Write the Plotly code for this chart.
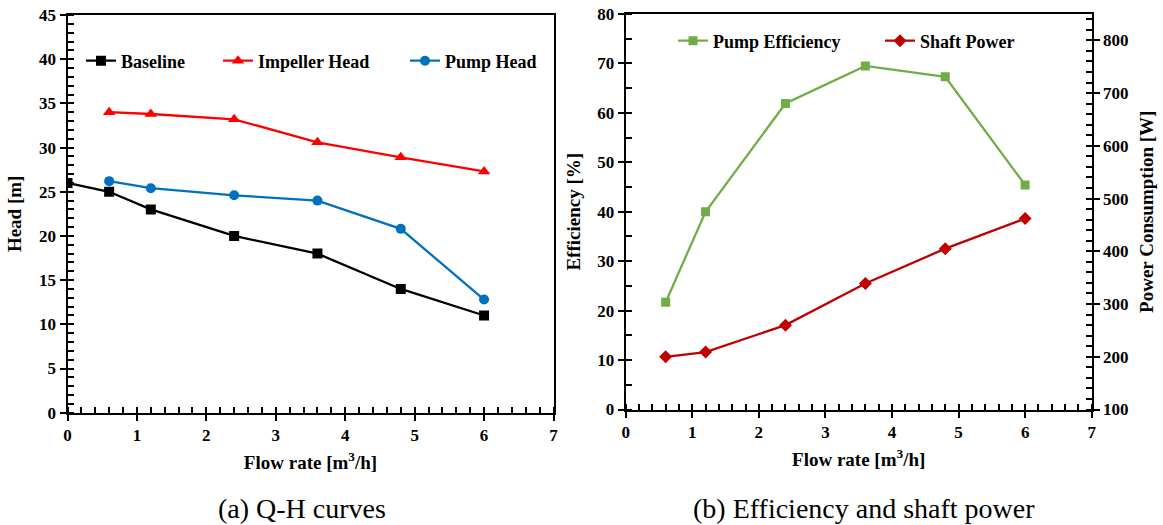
import plotly.graph_objects as go

# Flow rates [m3/h]
flow_base = [0, 0.6, 1.2, 2.4, 3.6, 4.8, 6]
flow = [0.6, 1.2, 2.4, 3.6, 4.8, 6]

# Q-H curves [m]
baseline_head = [26, 25, 23, 20, 18, 14, 11]
impeller_head = [34.0, 33.8, 33.2, 30.6, 28.9, 27.3]
pump_head = [26.2, 25.4, 24.6, 24.0, 20.8, 12.8]

# Efficiency [%] and shaft power [W]
pump_efficiency = [21.7, 40.0, 61.9, 69.5, 67.3, 45.4]
shaft_power = [200, 209, 260, 339, 405, 462]

captions = ["(a) Q-H curves", "(b) Efficiency and shaft power"]

W, H = 1163, 525
SERIF = "Liberation Serif"
TICK_FONT = dict(family=SERIF, size=17, color="black", weight="bold")
TITLE_FONT = dict(family=SERIF, size=19, color="black", weight="bold")


def px(x):
    return x / W


def py(y):
    return 1 - y / H


fig = go.Figure()

fig.add_trace(go.Scatter(x=flow_base, y=baseline_head, name="Baseline", mode="lines+markers",
                         line=dict(color="black", width=2.3),
                         marker=dict(symbol="square", size=10, color="black"),
                         xaxis="x", yaxis="y", legend="legend"))
fig.add_trace(go.Scatter(x=flow, y=impeller_head, name="Impeller Head", mode="lines+markers",
                         line=dict(color="#FF0000", width=2.3),
                         marker=dict(symbol="triangle-up", size=11, color="#FF0000"),
                         xaxis="x", yaxis="y", legend="legend2"))
fig.add_trace(go.Scatter(x=flow, y=pump_head, name="Pump Head", mode="lines+markers",
                         line=dict(color="#0070C0", width=2.3),
                         marker=dict(symbol="circle", size=10, color="#0070C0"),
                         xaxis="x", yaxis="y", legend="legend3"))
fig.add_trace(go.Scatter(x=flow, y=pump_efficiency, name="Pump Efficiency", mode="lines+markers",
                         line=dict(color="#70AD47", width=2.3),
                         marker=dict(symbol="square", size=9, color="#70AD47"),
                         xaxis="x2", yaxis="y2", legend="legend4"))
fig.add_trace(go.Scatter(x=flow, y=shaft_power, name="Shaft Power", mode="lines+markers",
                         line=dict(color="#C00000", width=2.3),
                         marker=dict(symbol="diamond", size=10, color="#C00000"),
                         xaxis="x2", yaxis="y3", legend="legend5"))


def minor_ticks(step, start=0):
    return dict(tickmode="linear", tick0=start, dtick=step, ticks="inside", ticklen=6,
                tickwidth=2, tickcolor="#000000", showgrid=False)


def axis_common(**kw):
    base = dict(showline=True, linecolor="black", linewidth=2, showgrid=False, zeroline=False,
                ticks="outside", ticklen=6, tickwidth=2, tickcolor="black",
                tickfont=TICK_FONT, automargin=False, fixedrange=True)
    base.update(kw)
    return base


def x_common():
    return dict(range=[0, 7], tickmode="linear", dtick=1, tick0=0, minor=minor_ticks(0.2),
                title=dict(text="Flow rate [m<sup>3</sup>/h]", font=TITLE_FONT, standoff=12))


fig.update_layout(
    width=W, height=H, autosize=False,
    margin=dict(l=0, r=0, t=0, b=0),
    paper_bgcolor="white", plot_bgcolor="white",
    xaxis=axis_common(domain=[px(67.5), px(553.5)], anchor="y", mirror=True, **x_common()),
    yaxis=axis_common(domain=[py(412.7), py(15)], anchor="x", range=[0, 45],
                      tickmode="linear", tick0=0, dtick=5, mirror=True, minor=minor_ticks(1),
                      title=dict(text="Head [m]", font=TITLE_FONT, standoff=12)),
    xaxis2=axis_common(domain=[px(625.7), px(1091.7)], anchor="y2", mirror=True, **x_common()),
    yaxis2=axis_common(domain=[py(409.5), py(14)], anchor="x2", range=[0, 80],
                       tickmode="linear", tick0=0, dtick=10, minor=minor_ticks(5),
                       title=dict(text="Efficiency [%]", font=TITLE_FONT, standoff=12)),
    yaxis3=axis_common(overlaying="y2", anchor="x2", side="right", range=[100, 850],
                       tickmode="array", tickvals=[100, 200, 300, 400, 500, 600, 700, 800],
                       minor=minor_ticks(20, 100),
                       title=dict(text="Power Consumption [W]", font=TITLE_FONT, standoff=12)),
    showlegend=True,
)

legend_style = dict(font=dict(family=SERIF, size=18, color="black", weight="bold"),
                    bgcolor="rgba(0,0,0,0)", borderwidth=0,
                    xanchor="left", yanchor="middle", itemwidth=30)
fig.update_layout(
    legend=dict(x=px(81), y=py(61), **legend_style),
    legend2=dict(x=px(218), y=py(61), **legend_style),
    legend3=dict(x=px(405), y=py(61), **legend_style),
    legend4=dict(x=px(673), y=py(41), **legend_style),
    legend5=dict(x=px(880), y=py(41), **legend_style),
)

for cx, text in zip([302, 864], captions):
    fig.add_annotation(text=text, x=px(cx), y=py(508), xref="paper", yref="paper",
                       xanchor="center", yanchor="middle", showarrow=False,
                       font=dict(family=SERIF, size=28, color="black"))

fig.write_html("out.html")
